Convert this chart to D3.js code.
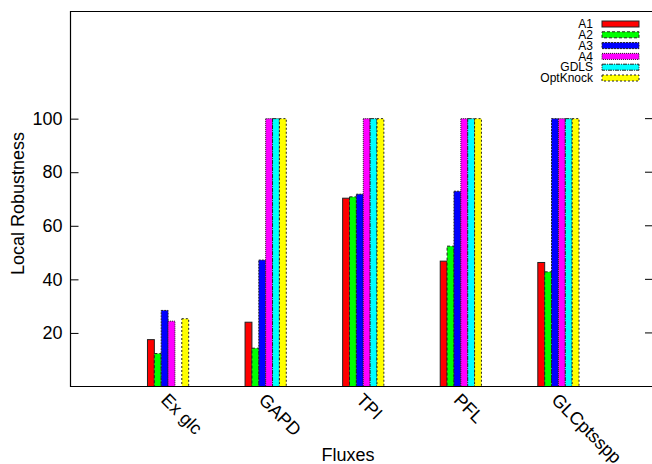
<!DOCTYPE html>
<html>
<head>
<meta charset="utf-8">
<script src="https://cdn.jsdelivr.net/npm/d3@7"></script>
<style>
  body { margin: 0; background: #fff; }
  svg { font-family: "Liberation Sans", Arial, sans-serif; }
</style>
</head>
<body>
<svg id="chart" width="652" height="464"></svg>
<script>
// chart data
var fluxes = ['Ex glc', 'GAPD', 'TPI', 'PFL', 'GLCptsspp'];
var seriesNames = ['A1', 'A2', 'A3', 'A4', 'GDLS', 'OptKnock'];
var A1 = [17.5, 24, 70.3, 46.8, 46.3];
var A2 = [12.3, 14.3, 70.8, 52.4, 42.8];
var A3 = [28.4, 47.2, 71.8, 72.9, 100];
var A4 = [24.4, 100, 100, 100, 100];
var GDLS = [0, 100, 100, 100, 100];
var OptKnock = [25.3, 100, 100, 100, 100];
var yTicks = [20, 40, 60, 80, 100];

var seriesVals = [A1, A2, A3, A4, GDLS, OptKnock];
var colors = ['#ff0000', '#00ff00', '#0000ff', '#ff00ff', '#00ffff', '#ffff00'];
var dashes = [null, '3,2', '2,1', '1,1', '4,1,1,1', '2,2'];

var svg = d3.select('#chart');
var mLeft = 70.5, mTop = 11.5, mBottom = 386.5, mRight = 656;

var x = d3.scaleLinear().domain([-1, 5]).range([mLeft, mRight]);
var y = d3.scaleLinear().domain([0, 140]).range([mBottom, mTop]);
var bw = 6.87;

// bars (zero values are not drawn)
seriesVals.forEach(function (vals, s) {
  var pts = vals.map(function (v, i) { return { v: v, i: i }; })
    .filter(function (d) { return d.v > 0; });
  svg.append('g').selectAll('rect')
    .data(pts)
    .enter().append('rect')
    .attr('x', function (d) { return x(d.i) - 3 * bw + s * bw; })
    .attr('y', function (d) { return y(d.v); })
    .attr('width', bw)
    .attr('height', function (d) { return mBottom - y(d.v); })
    .attr('fill', colors[s])
    .attr('stroke', '#222')
    .attr('stroke-width', 1)
    .attr('stroke-dasharray', dashes[s]);
});

// frame
svg.append('path')
  .attr('d', 'M' + mRight + ',' + mTop + 'H' + mLeft + 'V' + mBottom + 'H' + mRight)
  .attr('fill', 'none').attr('stroke', '#000').attr('stroke-width', 1.2);

// y axis
var yAxis = d3.axisLeft(y).tickValues(yTicks).tickSizeInner(-8).tickSizeOuter(0).tickPadding(8);
var gy = svg.append('g').attr('transform', 'translate(' + mLeft + ',0)').call(yAxis);
gy.select('.domain').remove();
gy.selectAll('text').attr('font-size', 18).attr('fill', '#000').attr('x', -8)
  .style('font-family', '"Liberation Sans", Arial, sans-serif');
gy.selectAll('line').attr('stroke', '#000');

// mirror ticks on right
svg.append('g').selectAll('line').data(yTicks).enter().append('line')
  .attr('x1', 652).attr('x2', 645)
  .attr('y1', function (d) { return y(d); }).attr('y2', function (d) { return y(d); })
  .attr('stroke', '#000');

// x labels
svg.append('g').selectAll('text').data(fluxes).enter().append('text')
  .attr('transform', function (d, i) { return 'translate(' + (x(i) - 8) + ',401) rotate(45)'; })
  .attr('font-size', 18)
  .text(function (d) { return d; });

// axis titles
svg.append('text').attr('x', 348).attr('y', 461).attr('text-anchor', 'middle')
  .attr('font-size', 18).text('Fluxes');
svg.append('text').attr('transform', 'translate(24,275) rotate(-90)')
  .attr('font-size', 18).text('Local Robustness');

// legend
var lg = svg.append('g');
seriesNames.forEach(function (name, s) {
  var ly = 24 + s * 10.8;
  lg.append('text').attr('x', 593).attr('y', ly + 4.2).attr('text-anchor', 'end')
    .attr('font-size', 12).text(name);
  lg.append('rect').attr('x', 602).attr('y', ly - 3).attr('width', 37).attr('height', 6)
    .attr('fill', colors[s]).attr('stroke', '#222').attr('stroke-width', 1)
    .attr('stroke-dasharray', dashes[s]);
});
</script>
</body>
</html>
